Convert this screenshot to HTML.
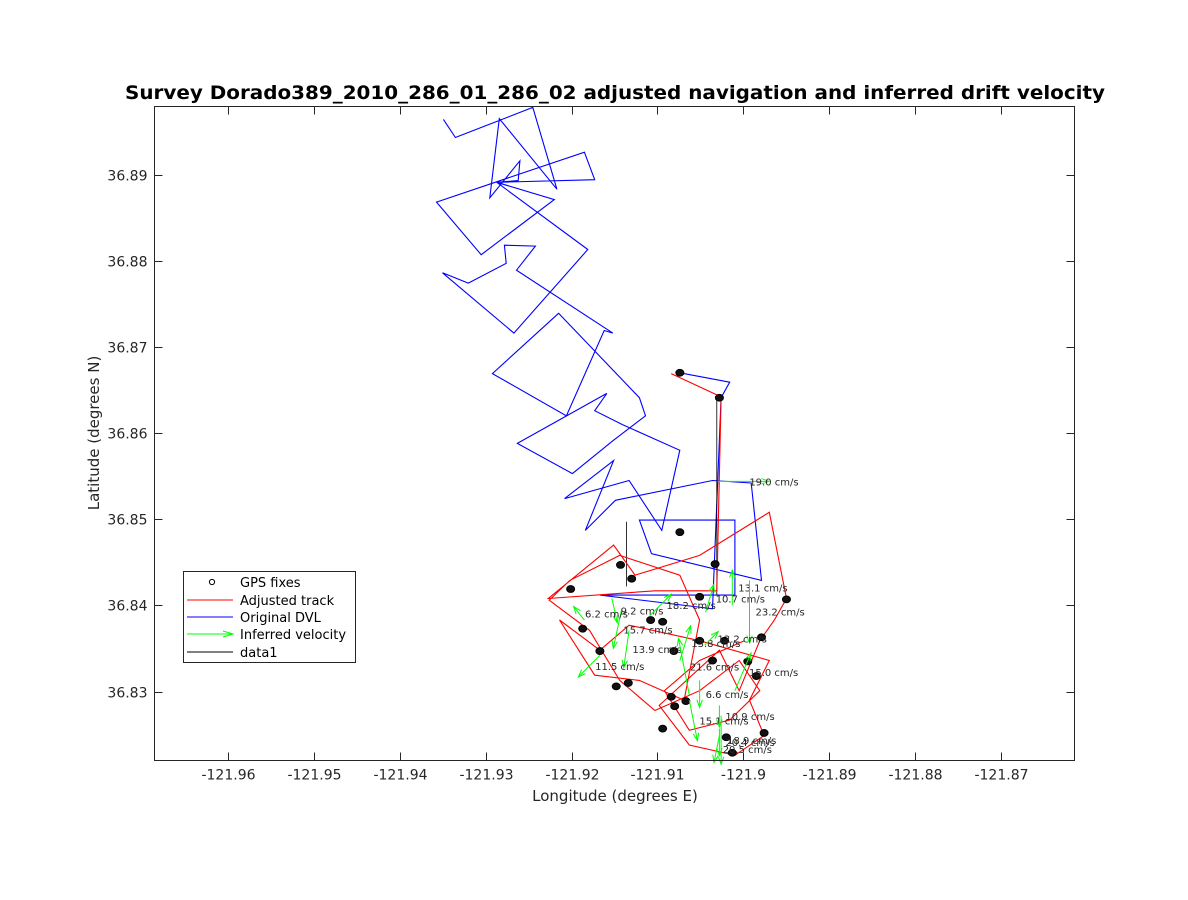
<!DOCTYPE html>
<html><head><meta charset="utf-8"><style>
body{margin:0;background:#fff;}
svg{display:block;font-family:"DejaVu Sans","Liberation Sans",sans-serif;}
</style></head><body>
<svg id="chart" width="1188" height="900" viewBox="0 0 1188 900" xmlns="http://www.w3.org/2000/svg">
<rect width="1188" height="900" fill="#fff"/>
<text x="615" y="99" text-anchor="middle" font-size="19" font-weight="bold" fill="#000" textLength="980" lengthAdjust="spacingAndGlyphs">Survey Dorado389_2010_286_01_286_02 adjusted navigation and inferred drift velocity</text>
<g id="plot"></g>
<text x="615" y="801" text-anchor="middle" font-size="15" fill="#262626">Longitude (degrees E)</text>
<text transform="translate(99,433) rotate(-90)" text-anchor="middle" font-size="15" fill="#262626">Latitude (degrees N)</text>
<g>
<rect x="183.5" y="571.5" width="172" height="91" fill="#fff" stroke="#262626" stroke-width="1"/>
<g><circle cx="212" cy="582" r="2.6" fill="none" stroke="#000" stroke-width="1"/><text x="240" y="587" font-size="13" fill="#000">GPS fixes</text></g>
<g><line x1="187" y1="600" x2="233" y2="600" stroke="#f00"/><text x="240" y="605" font-size="13" fill="#000">Adjusted track</text></g>
<g><line x1="187" y1="617" x2="233" y2="617" stroke="#00f"/><text x="240" y="622" font-size="13" fill="#000">Original DVL</text></g>
<g><line x1="187" y1="634" x2="233" y2="634" stroke="#0f0"/><path d="M223,631 L233,634 L223,637" fill="none" stroke="#0f0"/><text x="240" y="639" font-size="13" fill="#000">Inferred velocity</text></g>
<g><line x1="187" y1="652" x2="233" y2="652" stroke="#000"/><text x="240" y="657" font-size="13" fill="#000">data1</text></g>
</g>
</svg>
<script>
const xTicks=[-121.96,-121.95,-121.94,-121.93,-121.92,-121.91,-121.9,-121.89,-121.88,-121.87];
const xTickLabels=["-121.96","-121.95","-121.94","-121.93","-121.92","-121.91","-121.9","-121.89","-121.88","-121.87"];
const yTicks=[36.83,36.84,36.85,36.86,36.87,36.88,36.89];
const yTickLabels=["36.83","36.84","36.85","36.86","36.87","36.88","36.89"];
const dvlLon=[-121.9349,-121.9335,-121.9245,-121.9217,-121.9284,-121.9295,-121.9260,-121.9262,-121.9287,-121.9220,-121.9305,-121.9357,-121.9185,-121.9173,
-121.9287,-121.9181,-121.9267,-121.9350,-121.9320,-121.9276,-121.9278,-121.9242,-121.9264,-121.9152,-121.9162,-121.9206,-121.9292,-121.9215,-121.9121,-121.9114,-121.9152,-121.9199,-121.9263,-121.9159,-121.9173,-121.9141,-121.9074,-121.9095,-121.9133,-121.9208,-121.9151,-121.9184,-121.9149,-121.9036,-121.8991,-121.8979,-121.9107,-121.9121,-121.9026,-121.9010,-121.9010,-121.9167,-121.9036,-121.9026,-121.9016,-121.9074];
const dvlLat=[36.8964,36.8943,36.8978,36.8883,36.8965,36.8873,36.8916,36.8893,36.8891,36.8871,36.8807,36.8868,36.8926,36.8894,
36.8891,36.8813,36.8716,36.8786,36.8774,36.8797,36.8818,36.8817,36.8789,36.8716,36.8719,36.8620,36.8669,36.8739,36.8641,36.8620,36.8591,36.8553,36.8588,36.8646,36.8626,36.8610,36.8580,36.8487,36.8545,36.8524,36.8568,36.8487,36.8522,36.8545,36.8542,36.8429,36.8460,36.8499,36.8499,36.8499,36.8412,36.8412,36.8396,36.8641,36.8659,36.8670];
const adjLon=[-121.9084,-121.9026,-121.9031,-121.9103,-121.9227,-121.9151,-121.9126,-121.9051,-121.8970,-121.8950,-121.8964,-121.8981,-121.9005,-121.9028,-121.9098,-121.9063,-121.9010,-121.8976,-121.8993,-121.8970,-121.9051,-121.9133,-121.9167,-121.9214,-121.9173,-121.9121,-121.9069,-121.9051,-121.9074,-121.9144,-121.9202,-121.9226,-121.9179,-121.9144,-121.9103,-121.9051,-121.9005,-121.8981,-121.9016,-121.9063,-121.9092,-121.9051,-121.8999];
const adjLat=[36.8669,36.8642,36.8417,36.8417,36.8408,36.8470,36.8435,36.8458,36.8508,36.8408,36.8383,36.8359,36.8301,36.8348,36.8284,36.8238,36.8226,36.8249,36.8290,36.8336,36.8359,36.8377,36.8348,36.8383,36.8319,36.8313,36.8290,36.8383,36.8435,36.8458,36.8429,36.8406,36.8371,36.8313,36.8278,36.8301,36.8336,36.8301,36.8267,36.8255,36.8301,36.8336,36.8359];
const gpsLon=[-121.9074,-121.9028,-121.9074,-121.9033,-121.9051,-121.9143,-121.9130,-121.9201,-121.9187,-121.9167,-121.9134,-121.9148,-121.9108,-121.9094,-121.9051,-121.9022,-121.8979,-121.8995,-121.8985,-121.9081,-121.9036,-121.9067,-121.9080,-121.9084,-121.9094,-121.9020,-121.9013,-121.8976,-121.8950];
const gpsLat=[36.8670,36.8641,36.8485,36.8448,36.8410,36.8447,36.8431,36.8419,36.8373,36.8347,36.8310,36.8306,36.8383,36.8381,36.8359,36.8359,36.8363,36.8335,36.8318,36.8347,36.8336,36.8289,36.8283,36.8294,36.8257,36.8247,36.8229,36.8252,36.8407];
const velLon=[-121.9030,-121.9013,-121.9044,-121.8993,-121.9153,-121.9142,-121.9133,-121.9167,-121.9185,-121.9074,-121.9063,-121.9010,-121.9026,-121.9028,-121.9051,-121.9063,-121.9109,-121.9028,-121.9045,-121.9028];
const velLat=[36.8544,36.8400,36.8392,36.8429,36.8408,36.8394,36.8371,36.8342,36.8383,36.8336,36.8296,36.8301,36.8272,36.8249,36.8313,36.8290,36.8388,36.8284,36.8354,36.8257];
const velU=[19,0,3,0,2,-3,-2,-8,-4,4,-4,6,0,-2,0,3,8,0,5,0];
const velV=[0,13.1,10.3,-23.2,-9,-14,-13.8,-8,5,12.9,21,14,-18,-10,-10,-15,8,-8,5,-10];
const velLabels=["19.0 cm/s","13.1 cm/s","10.7 cm/s","23.2 cm/s","9.2 cm/s","15.7 cm/s","13.9 cm/s","11.5 cm/s","6.2 cm/s","13.8 cm/s","21.6 cm/s","15.0 cm/s","18.9 cm/s","20.5 cm/s","6.6 cm/s","15.1 cm/s","18.2 cm/s","10.9 cm/s","12.2 cm/s","20.4 cm/s"];
const data1Lon=[-121.9031,-121.9031,null,-121.9136,-121.9136];
const data1Lat=[36.8641,36.8412,null,36.8497,36.8422];

const L=154.5,R=1074.5,T=106.5,B=760.5;
const X0=-121.9685,X1=-121.8615,Y0=36.8220,Y1=36.8979;
const sx=v=>L+(v-X0)/(X1-X0)*(R-L);
const sy=v=>B-(v-Y0)/(Y1-Y0)*(B-T);
const PXPERCM=2.7;
const NS="http://www.w3.org/2000/svg";
const plot=document.getElementById('plot');
function mk(tag,attrs,parent){const e=document.createElementNS(NS,tag);for(const k in attrs)e.setAttribute(k,attrs[k]);(parent||plot).appendChild(e);return e;}
mk('rect',{x:L,y:T,width:R-L,height:B-T,fill:'#fff'});
function lineD(xs,ys){let d='',pen=false;for(let i=0;i<xs.length;i++){if(xs[i]===null){pen=false;continue;}d+=(pen?'L':'M')+sx(xs[i]).toFixed(1)+','+sy(ys[i]).toFixed(1);pen=true;}return d;}
const blue=mk('path',{d:lineD(dvlLon,dvlLat),fill:'none',stroke:'#00f','stroke-width':1.1});


const black=mk('path',{d:lineD(data1Lon,data1Lat),fill:'none',stroke:'#000','stroke-width':0.8});


const red=mk('path',{d:lineD(adjLon,adjLat),fill:'none',stroke:'#f00','stroke-width':1.1});


for(let i=0;i<gpsLon.length;i++){
  const c=mk('ellipse',{cx:sx(gpsLon[i]),cy:sy(gpsLat[i]),rx:4,ry:3.4,fill:'#111',stroke:'#000','stroke-width':1});
  
  
}
for(let i=0;i<velLon.length;i++){
  const x0=sx(velLon[i]),y0=sy(velLat[i]);
  const x1=x0+velU[i]*PXPERCM,y1=y0-velV[i]*PXPERCM;
  const g=mk('g',{});
  
  
  mk('line',{x1:x0,y1:y0,x2:x1,y2:y1,stroke:'#0f0','stroke-width':1},g);
  const a=Math.atan2(y1-y0,x1-x0),h=8;
  mk('path',{d:`M${x1-h*Math.cos(a-0.35)},${y1-h*Math.sin(a-0.35)}L${x1},${y1}L${x1-h*Math.cos(a+0.35)},${y1-h*Math.sin(a+0.35)}`,fill:'none',stroke:'#0f0','stroke-width':1},g);
  const t=mk('text',{x:(x0+x1)/2+6,y:(y0+y1)/2+4,'font-size':10,fill:'#262626'},g);
  t.textContent=velLabels[i];
  
  
}
mk('rect',{x:L,y:T,width:R-L,height:B-T,fill:'none',stroke:'#262626','stroke-width':1});
for(let i=0;i<xTicks.length;i++){
  const x=Math.round(sx(xTicks[i]))+0.5;
  mk('line',{x1:x,y1:B,x2:x,y2:B-8,stroke:'#262626'});
  mk('line',{x1:x,y1:T,x2:x,y2:T+8,stroke:'#262626'});
  const t=mk('text',{x:x,y:B+19,'text-anchor':'middle','font-size':14,fill:'#262626'});
  t.textContent=xTickLabels[i];
  
  
}
for(let i=0;i<yTicks.length;i++){
  const y=Math.round(sy(yTicks[i]))+0.5;
  mk('line',{x1:L,y1:y,x2:L+8,y2:y,stroke:'#262626'});
  mk('line',{x1:R,y1:y,x2:R-8,y2:y,stroke:'#262626'});
  const t=mk('text',{x:L-7,y:y+5,'text-anchor':'end','font-size':14,fill:'#262626'});
  t.textContent=yTickLabels[i];
  
  
}
</script>
</body></html>
